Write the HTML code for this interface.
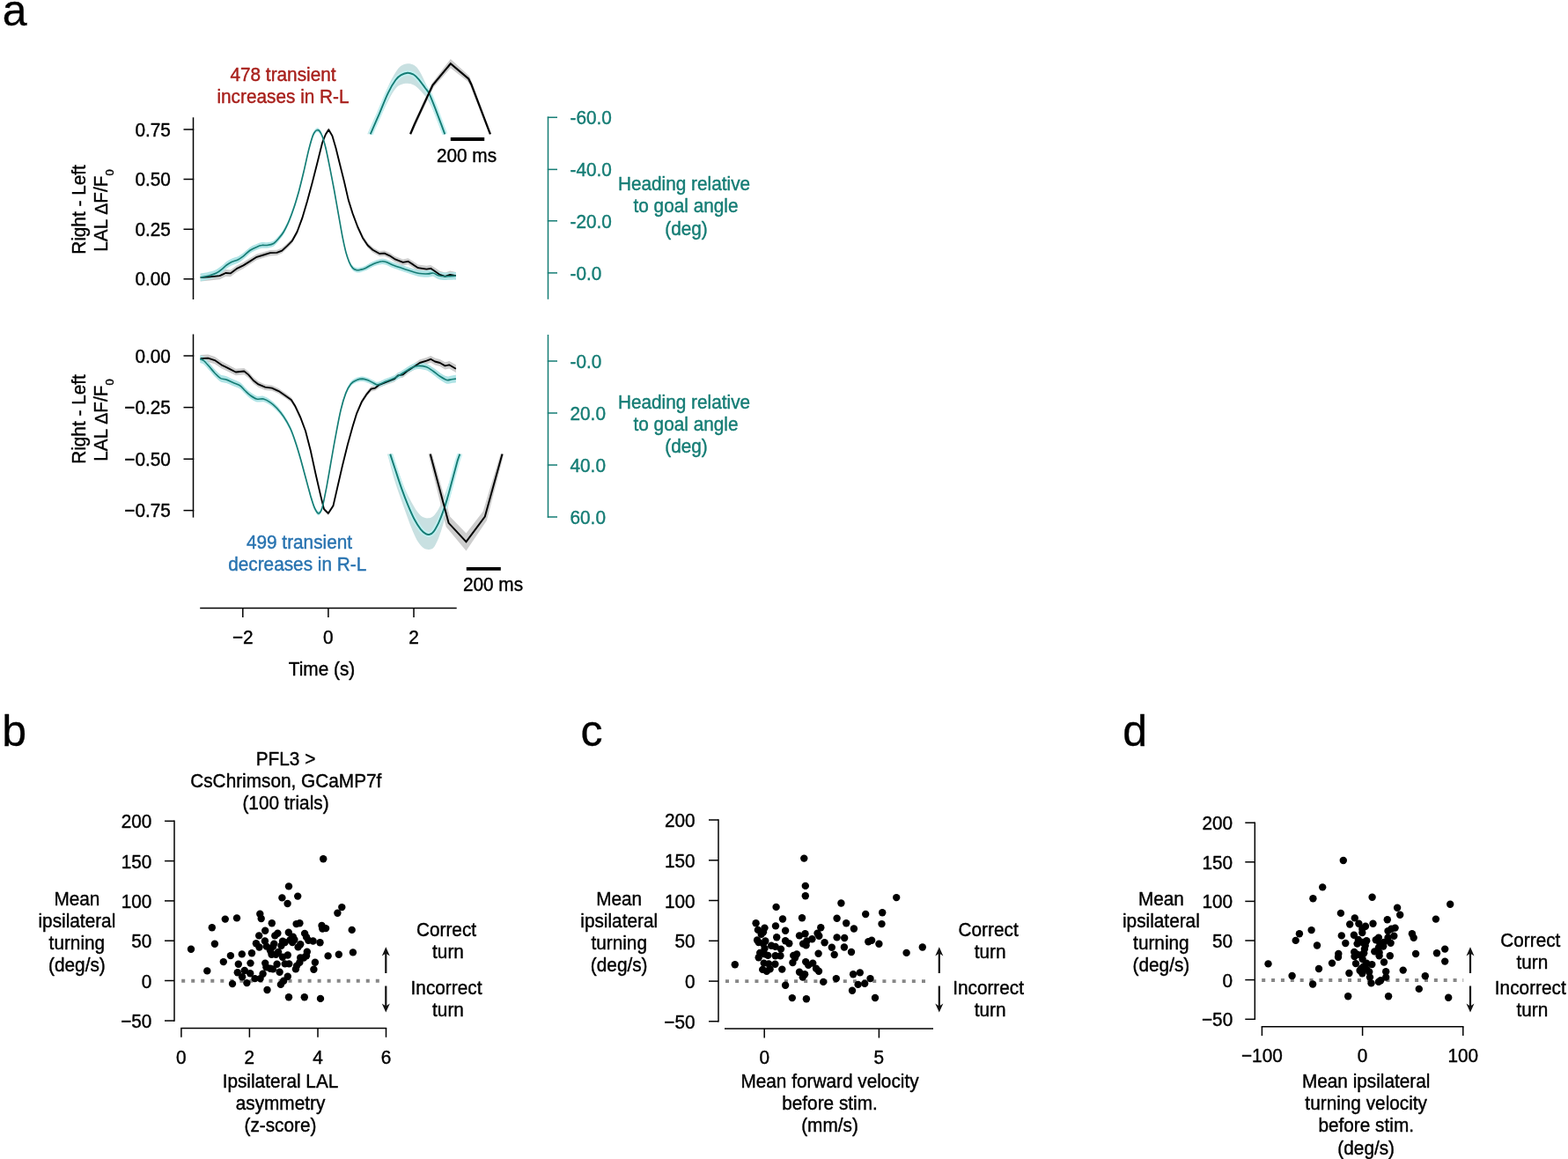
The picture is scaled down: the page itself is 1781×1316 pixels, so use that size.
<!DOCTYPE html>
<html lang="en"><head><meta charset="utf-8"><title>Figure</title>
<style>
html,body{margin:0;padding:0;background:#fff;}
body{width:1781px;height:1316px;overflow:hidden;}
svg{display:block;font-family:"Liberation Sans",sans-serif;}
text{stroke-width:0.4px;stroke-linejoin:round;transform-box:fill-box;transform-origin:50% 79%;transform:scaleY(1.025);}
</style></head><body>
<svg width="1781" height="1316" viewBox="0 0 1781 1316">
<rect width="1781" height="1316" fill="#fff"/>
<text x="2.8" y="28.5" text-anchor="start" fill="#000" stroke="#000" font-size="50.0px" style="transform:none;stroke-width:0.3px">a</text>
<text x="2.2" y="846.6" text-anchor="start" fill="#000" stroke="#000" font-size="50.0px" style="transform:none;stroke-width:0.3px">b</text>
<text x="659.6" y="846.6" text-anchor="start" fill="#000" stroke="#000" font-size="50.0px" style="transform:none;stroke-width:0.3px">c</text>
<text x="1275.2" y="846.6" text-anchor="start" fill="#000" stroke="#000" font-size="50.0px" style="transform:none;stroke-width:0.3px">d</text>
<line x1="219.5" y1="133.3" x2="219.5" y2="340.0" stroke="#000" stroke-width="1.50"/>
<line x1="208.5" y1="147.0" x2="220.2" y2="147.0" stroke="#000" stroke-width="1.50"/>
<text x="193.9" y="154.5" text-anchor="end" fill="#000" stroke="#000" font-size="20.8px">0.75</text>
<line x1="208.5" y1="203.5" x2="220.2" y2="203.5" stroke="#000" stroke-width="1.50"/>
<text x="193.9" y="211.0" text-anchor="end" fill="#000" stroke="#000" font-size="20.8px">0.50</text>
<line x1="208.5" y1="260.3" x2="220.2" y2="260.3" stroke="#000" stroke-width="1.50"/>
<text x="193.9" y="267.8" text-anchor="end" fill="#000" stroke="#000" font-size="20.8px">0.25</text>
<line x1="208.5" y1="316.8" x2="220.2" y2="316.8" stroke="#000" stroke-width="1.50"/>
<text x="193.9" y="324.3" text-anchor="end" fill="#000" stroke="#000" font-size="20.8px">0.00</text>
<line x1="219.5" y1="379.5" x2="219.5" y2="587.6" stroke="#000" stroke-width="1.50"/>
<line x1="208.5" y1="404.0" x2="220.2" y2="404.0" stroke="#000" stroke-width="1.50"/>
<text x="193.9" y="411.5" text-anchor="end" fill="#000" stroke="#000" font-size="20.8px">0.00</text>
<line x1="208.5" y1="462.6" x2="220.2" y2="462.6" stroke="#000" stroke-width="1.50"/>
<text x="193.9" y="470.1" text-anchor="end" fill="#000" stroke="#000" font-size="20.8px">−0.25</text>
<line x1="208.5" y1="521.2" x2="220.2" y2="521.2" stroke="#000" stroke-width="1.50"/>
<text x="193.9" y="528.7" text-anchor="end" fill="#000" stroke="#000" font-size="20.8px">−0.50</text>
<line x1="208.5" y1="579.6" x2="220.2" y2="579.6" stroke="#000" stroke-width="1.50"/>
<text x="193.9" y="587.1" text-anchor="end" fill="#000" stroke="#000" font-size="20.8px">−0.75</text>
<g transform="translate(97.2 238.0) rotate(-90)"><text text-anchor="middle" stroke="#000" font-size="20.8px">Right - Left</text></g>
<g transform="translate(122.3 239.0) rotate(-90)"><text text-anchor="middle" stroke="#000" font-size="20.8px">LAL <tspan font-size="19.5px">Δ</tspan>F/F<tspan font-size="13px" dy="6.3">0</tspan></text></g>
<g transform="translate(97.2 476.0) rotate(-90)"><text text-anchor="middle" stroke="#000" font-size="20.8px">Right - Left</text></g>
<g transform="translate(122.3 477.0) rotate(-90)"><text text-anchor="middle" stroke="#000" font-size="20.8px">LAL <tspan font-size="19.5px">Δ</tspan>F/F<tspan font-size="13px" dy="6.3">0</tspan></text></g>
<text x="321.5" y="92.2" text-anchor="middle" fill="#a8201c" stroke="#a8201c" font-size="20.8px">478 transient</text>
<text x="321.5" y="117.2" text-anchor="middle" fill="#a8201c" stroke="#a8201c" font-size="20.8px">increases in R-L</text>
<text x="340.0" y="623.2" text-anchor="middle" fill="#2873b0" stroke="#2873b0" font-size="20.8px">499 transient</text>
<text x="337.7" y="648.0" text-anchor="middle" fill="#2873b0" stroke="#2873b0" font-size="20.8px">decreases in R-L</text>
<line x1="622.5" y1="132.5" x2="622.5" y2="339.8" stroke="#147c74" stroke-width="1.50"/>
<line x1="621.8" y1="133.3" x2="633.0" y2="133.3" stroke="#147c74" stroke-width="1.50"/>
<text x="647.5" y="140.6" text-anchor="start" fill="#147c74" stroke="#147c74" font-size="20.8px">-60.0</text>
<line x1="621.8" y1="192.4" x2="633.0" y2="192.4" stroke="#147c74" stroke-width="1.50"/>
<text x="647.5" y="199.7" text-anchor="start" fill="#147c74" stroke="#147c74" font-size="20.8px">-40.0</text>
<line x1="621.8" y1="250.8" x2="633.0" y2="250.8" stroke="#147c74" stroke-width="1.50"/>
<text x="647.5" y="259.0" text-anchor="start" fill="#147c74" stroke="#147c74" font-size="20.8px">-20.0</text>
<line x1="621.8" y1="309.9" x2="633.0" y2="309.9" stroke="#147c74" stroke-width="1.50"/>
<text x="647.5" y="318.2" text-anchor="start" fill="#147c74" stroke="#147c74" font-size="20.8px">-0.0</text>
<line x1="622.5" y1="380.0" x2="622.5" y2="587.8" stroke="#147c74" stroke-width="1.50"/>
<line x1="621.8" y1="410.0" x2="633.0" y2="410.0" stroke="#147c74" stroke-width="1.50"/>
<text x="647.5" y="418.0" text-anchor="start" fill="#147c74" stroke="#147c74" font-size="20.8px">-0.0</text>
<line x1="621.8" y1="469.0" x2="633.0" y2="469.0" stroke="#147c74" stroke-width="1.50"/>
<text x="647.5" y="477.0" text-anchor="start" fill="#147c74" stroke="#147c74" font-size="20.8px">20.0</text>
<line x1="621.8" y1="528.0" x2="633.0" y2="528.0" stroke="#147c74" stroke-width="1.50"/>
<text x="647.5" y="536.0" text-anchor="start" fill="#147c74" stroke="#147c74" font-size="20.8px">40.0</text>
<line x1="621.8" y1="587.0" x2="633.0" y2="587.0" stroke="#147c74" stroke-width="1.50"/>
<text x="647.5" y="595.0" text-anchor="start" fill="#147c74" stroke="#147c74" font-size="20.8px">60.0</text>
<text x="777.0" y="216.2" text-anchor="middle" fill="#147c74" stroke="#147c74" font-size="20.8px">Heading relative</text>
<text x="779.0" y="241.4" text-anchor="middle" fill="#147c74" stroke="#147c74" font-size="20.8px">to goal angle</text>
<text x="779.5" y="266.7" text-anchor="middle" fill="#147c74" stroke="#147c74" font-size="20.8px">(deg)</text>
<text x="777.0" y="463.7" text-anchor="middle" fill="#147c74" stroke="#147c74" font-size="20.8px">Heading relative</text>
<text x="779.0" y="488.9" text-anchor="middle" fill="#147c74" stroke="#147c74" font-size="20.8px">to goal angle</text>
<text x="779.5" y="514.2" text-anchor="middle" fill="#147c74" stroke="#147c74" font-size="20.8px">(deg)</text>
<path d="M227.7 310.8L238.2 310.2L249.6 309.2L256.3 306.0L262.0 306.5L268.7 301.4L276.4 297.7L284.0 293.1L291.6 288.4L299.3 286.2L306.9 284.1L314.5 283.8L320.3 281.6L326.0 276.5L331.7 270.9L337.5 260.5L343.2 245.3L348.9 226.3L354.6 205.4L360.4 182.5L366.1 159.7L369.9 150.2L373.3 145.1L377.5 152.1L381.4 165.4L386.1 184.4L390.9 203.5L395.7 224.4L400.5 239.6L406.2 254.8L411.9 267.1L417.6 275.6L423.4 280.9L431.0 285.0L436.7 284.5L442.5 287.1L448.2 290.8L457.7 294.5L463.5 293.3L469.2 296.8L474.9 300.5L484.5 301.7L489.2 300.9L494.0 304.1L499.7 307.8L505.5 309.6L511.2 307.6L517.9 308.9L517.9 317.6L511.2 316.1L505.5 317.9L499.7 315.9L494.0 312.0L489.2 308.7L484.5 309.4L474.9 307.9L469.2 304.0L463.5 300.3L457.7 301.4L448.2 297.4L442.5 293.5L436.7 290.8L431.0 291.0L423.4 286.7L417.6 281.3L411.9 272.6L406.2 260.1L400.5 244.8L395.7 229.4L390.9 208.4L386.1 189.2L381.4 170.0L377.5 156.6L373.3 149.5L369.9 154.7L366.1 164.3L360.4 187.3L354.6 210.3L348.9 231.4L343.2 250.5L337.5 265.9L331.7 276.5L326.0 282.3L320.3 287.5L314.5 289.9L306.9 290.4L299.3 292.8L291.6 295.2L284.0 300.1L276.4 305.0L268.7 308.9L262.0 314.2L256.3 313.9L249.6 317.2L238.2 318.5L227.7 319.5Z" fill="#cccccc" stroke="none"/>
<path d="M227.7 310.8C229.3 310.4 235.5 309.4 238.2 308.6C240.9 307.9 243.8 306.8 245.8 305.9C247.8 304.9 249.8 303.5 251.5 302.1C253.3 300.8 255.6 298.3 257.3 297.1C259.0 295.8 261.0 294.6 263.0 293.7C265.0 292.8 268.6 291.9 270.6 291.0C272.6 290.0 274.4 288.8 276.4 287.2C278.4 285.7 281.7 282.2 284.0 280.7C286.3 279.1 289.6 277.8 291.6 277.0C293.6 276.1 295.6 275.4 297.4 275.1C299.1 274.9 301.1 275.5 303.1 275.2C305.1 275.0 308.7 274.6 310.7 273.4C312.7 272.3 314.7 269.8 316.5 267.8C318.2 265.8 320.5 263.1 322.2 260.2C323.9 257.4 326.2 252.9 327.9 248.9C329.6 244.9 331.9 238.8 333.6 233.7C335.4 228.6 337.6 221.0 339.4 214.7C341.1 208.4 343.4 199.0 345.1 191.9C346.8 184.7 349.2 173.3 350.8 167.1C352.4 161.0 354.2 154.2 355.6 151.0C357.0 147.7 358.9 145.4 360.4 145.3C361.8 145.2 363.7 147.1 365.1 150.2C366.6 153.2 368.5 159.8 369.9 165.5C371.3 171.2 373.3 181.3 374.7 188.4C376.1 195.6 378.0 205.5 379.5 213.2C380.9 220.9 382.8 231.8 384.2 239.8C385.7 247.8 387.7 259.9 389.0 266.5C390.3 273.1 391.7 279.3 392.8 283.6C394.0 287.9 395.5 292.3 396.6 295.0C397.8 297.7 399.2 300.3 400.5 301.6C401.7 303.0 403.8 303.8 405.2 304.1C406.7 304.3 408.4 303.8 410.0 303.4C411.6 303.0 414.0 302.2 415.7 301.4C417.4 300.6 419.7 299.0 421.5 298.1C423.2 297.2 425.3 296.2 427.2 295.5C429.0 294.9 432.1 293.9 433.9 293.7C435.6 293.5 436.8 293.8 438.6 294.4C440.5 295.0 443.7 296.7 446.3 297.7C448.9 298.7 452.7 299.8 455.8 300.8C459.0 301.8 464.1 303.6 467.3 304.5C470.4 305.4 474.0 306.4 476.8 306.8C479.7 307.2 484.1 307.2 486.4 307.0C488.7 306.9 490.4 305.7 492.1 306.0C493.8 306.3 495.8 308.2 497.8 308.8C499.8 309.3 502.5 309.6 505.5 309.6C508.5 309.6 516.0 309.0 517.9 308.9 L517.9 317.6C516.0 317.6 508.5 318.0 505.5 317.9C502.5 317.8 499.8 317.5 497.8 316.9C495.8 316.3 493.8 314.2 492.1 313.9C490.4 313.6 488.7 314.7 486.4 314.8C484.1 314.8 479.7 314.7 476.8 314.3C474.0 313.8 470.4 312.6 467.3 311.6C464.1 310.6 459.0 308.8 455.8 307.6C452.7 306.5 448.9 305.3 446.3 304.3C443.7 303.2 440.5 301.4 438.6 300.7C436.8 300.1 435.6 299.8 433.9 299.9C432.1 300.0 429.0 300.9 427.2 301.5C425.3 302.1 423.2 303.1 421.5 303.9C419.7 304.7 417.4 306.3 415.7 307.0C414.0 307.8 411.6 308.5 410.0 308.9C408.4 309.2 406.7 309.7 405.2 309.4C403.8 309.1 401.7 308.2 400.5 306.8C399.2 305.4 397.8 302.8 396.6 300.1C395.5 297.3 394.0 292.9 392.8 288.6C391.7 284.3 390.3 277.9 389.0 271.3C387.7 264.7 385.7 252.6 384.2 244.5C382.8 236.5 380.9 225.5 379.5 217.7C378.0 210.0 376.1 200.0 374.7 192.8C373.3 185.7 371.3 175.7 369.9 169.9C368.5 164.2 366.6 157.7 365.1 154.7C363.7 151.8 361.8 149.9 360.4 150.0C358.9 150.2 357.0 152.5 355.6 155.8C354.2 159.2 352.4 166.0 350.8 172.1C349.2 178.3 346.8 189.9 345.1 197.0C343.4 204.2 341.1 213.7 339.4 220.0C337.6 226.4 335.4 234.0 333.6 239.2C331.9 244.4 329.6 250.5 327.9 254.6C326.2 258.6 323.9 263.2 322.2 266.1C320.5 269.0 318.2 271.8 316.5 273.8C314.7 275.9 312.7 278.5 310.7 279.7C308.7 280.8 305.1 281.4 303.1 281.7C301.1 282.0 299.1 281.5 297.4 281.8C295.6 282.1 293.6 282.9 291.6 283.8C289.6 284.7 286.3 286.1 284.0 287.7C281.7 289.3 278.4 292.9 276.4 294.5C274.4 296.1 272.6 297.4 270.6 298.4C268.6 299.4 265.0 300.4 263.0 301.4C261.0 302.3 259.0 303.6 257.3 304.9C255.6 306.2 253.3 308.8 251.5 310.1C249.8 311.5 247.8 313.0 245.8 314.0C243.8 315.1 240.9 316.2 238.2 317.0C235.5 317.8 229.3 319.1 227.7 319.5Z" fill="#b0e4e6" stroke="none"/>
<path d="M227.7 315.1L238.2 314.3L249.6 313.2L256.3 310.0L262.0 310.3L268.7 305.2L276.4 301.4L284.0 296.6L291.6 291.8L299.3 289.5L306.9 287.2L314.5 286.9L320.3 284.6L326.0 279.4L331.7 273.7L337.5 263.2L343.2 247.9L348.9 228.8L354.6 207.8L360.4 184.9L366.1 162.0L369.9 152.5L373.3 147.3L377.5 154.4L381.4 167.7L386.1 186.8L390.9 205.9L395.7 226.9L400.5 242.2L406.2 257.5L411.9 269.9L417.6 278.5L423.4 283.8L431.0 288.0L436.7 287.6L442.5 290.3L448.2 294.1L457.7 297.9L463.5 296.8L469.2 300.4L474.9 304.2L484.5 305.6L489.2 304.8L494.0 308.0L499.7 311.9L505.5 313.8L511.2 311.9L517.9 313.2" stroke="#000" stroke-width="1.85" fill="none" stroke-linejoin="round"/>
<path d="M227.7 315.1C229.3 314.8 235.5 313.6 238.2 312.8C240.9 312.0 243.8 311.0 245.8 310.0C247.8 309.0 249.8 307.5 251.5 306.1C253.3 304.8 255.6 302.3 257.3 301.0C259.0 299.7 261.0 298.5 263.0 297.5C265.0 296.6 268.6 295.7 270.6 294.7C272.6 293.7 274.4 292.4 276.4 290.9C278.4 289.3 281.7 285.8 284.0 284.2C286.3 282.6 289.6 281.2 291.6 280.4C293.6 279.5 295.6 278.7 297.4 278.5C299.1 278.2 301.1 278.7 303.1 278.5C305.1 278.2 308.7 277.7 310.7 276.5C312.7 275.4 314.7 272.8 316.5 270.8C318.2 268.8 320.5 266.0 322.2 263.2C323.9 260.3 326.2 255.7 327.9 251.7C329.6 247.7 331.9 241.6 333.6 236.5C335.4 231.3 337.6 223.7 339.4 217.4C341.1 211.1 343.4 201.6 345.1 194.5C346.8 187.3 349.2 175.8 350.8 169.6C352.4 163.5 354.2 156.7 355.6 153.4C357.0 150.1 358.9 147.8 360.4 147.7C361.8 147.5 363.7 149.4 365.1 152.5C366.6 155.5 368.5 162.0 369.9 167.7C371.3 173.5 373.3 183.5 374.7 190.6C376.1 197.8 378.0 207.7 379.5 215.5C380.9 223.2 382.8 234.2 384.2 242.2C385.7 250.2 387.7 262.3 389.0 268.9C390.3 275.5 391.7 281.8 392.8 286.1C394.0 290.4 395.5 294.8 396.6 297.5C397.8 300.3 399.2 302.9 400.5 304.2C401.7 305.6 403.8 306.4 405.2 306.7C406.7 307.0 408.4 306.5 410.0 306.1C411.6 305.8 414.0 305.0 415.7 304.2C417.4 303.5 419.7 301.8 421.5 301.0C423.2 300.1 425.3 299.1 427.2 298.5C429.0 297.9 432.1 296.9 433.9 296.8C435.6 296.6 436.8 296.9 438.6 297.5C440.5 298.2 443.7 300.0 446.3 301.0C448.9 302.0 452.7 303.2 455.8 304.2C459.0 305.3 464.1 307.1 467.3 308.0C470.4 309.0 474.0 310.1 476.8 310.5C479.7 311.0 484.1 311.0 486.4 310.9C488.7 310.8 490.4 309.7 492.1 310.0C493.8 310.2 495.8 312.2 497.8 312.8C499.8 313.4 502.5 313.7 505.5 313.8C508.5 313.8 516.0 313.3 517.9 313.2" stroke="#147c74" stroke-width="1.65" fill="none" stroke-linejoin="round"/>
<path d="M227.7 402.9L236.3 402.4L243.9 405.0L251.5 410.3L259.2 414.2L267.8 418.7L277.3 417.9L282.1 421.8L287.8 428.6L293.5 433.1L301.2 436.4L308.8 437.5L316.5 441.1L324.1 446.3L330.8 451.2L335.5 458.9L341.3 471.4L347.0 486.8L352.7 508.8L358.5 535.6L364.2 560.5L368.0 575.8L372.8 580.7L378.5 572.0L383.3 550.9L389.0 526.0L394.7 503.0L400.5 482.0L405.2 466.6L411.0 453.2L416.7 444.5L421.5 438.7L426.2 437.7L431.0 433.8L438.6 430.8L448.2 426.8L452.0 423.0L457.7 421.9L463.5 417.1L471.1 412.2L476.8 408.3L484.5 405.9L489.2 403.9L494.0 406.5L499.7 407.9L505.5 411.3L510.2 410.1L517.9 414.3L517.9 423.0L510.2 418.5L505.5 419.6L499.7 416.1L494.0 414.5L489.2 411.7L484.5 413.6L476.8 415.7L471.1 419.5L463.5 424.1L457.7 428.8L452.0 429.7L448.2 433.4L438.6 437.1L431.0 439.9L426.2 443.6L421.5 444.5L416.7 450.1L411.0 458.7L405.2 471.9L400.5 487.1L394.7 508.0L389.0 530.9L383.3 555.6L378.5 576.5L372.8 585.0L368.0 580.3L364.2 565.1L358.5 540.4L352.7 513.8L347.0 491.9L341.3 476.7L335.5 464.4L330.8 456.8L324.1 452.1L316.5 447.1L308.8 443.8L301.2 442.9L293.5 439.8L287.8 435.5L282.1 428.9L277.3 425.2L267.8 426.3L259.2 422.0L251.5 418.3L243.9 413.2L236.3 410.9L227.7 411.6Z" fill="#cccccc" stroke="none"/>
<path d="M227.3 403.3C227.9 403.6 229.9 403.8 231.5 405.2C233.1 406.6 236.3 410.5 238.2 412.6C240.0 414.7 242.0 417.4 243.9 419.3C245.8 421.3 248.6 424.4 250.6 425.6C252.6 426.7 255.1 426.4 257.3 427.2C259.4 428.0 262.6 429.7 264.9 430.7C267.2 431.8 270.5 432.7 272.5 434.1C274.6 435.5 276.6 438.2 278.3 439.9C280.0 441.6 282.0 443.7 284.0 445.1C286.0 446.6 289.3 449.0 291.6 449.7C293.9 450.3 297.0 449.2 299.3 449.8C301.6 450.4 304.6 452.1 306.9 453.7C309.2 455.3 312.3 458.0 314.5 460.5C316.8 463.0 319.9 466.7 322.2 470.2C324.5 473.6 327.8 479.3 329.8 483.6C331.8 488.0 333.8 493.8 335.5 499.0C337.3 504.2 339.6 512.1 341.3 518.2C343.0 524.2 345.3 532.9 347.0 539.3C348.7 545.6 351.2 555.0 352.7 560.3C354.3 565.7 356.1 571.7 357.5 574.7C358.9 577.8 360.6 580.6 361.9 580.5C363.2 580.4 364.7 578.3 366.1 573.9C367.4 569.5 369.4 558.5 370.9 551.1C372.3 543.6 374.1 533.2 375.6 524.3C377.2 515.4 379.6 501.0 381.4 491.8C383.1 482.6 385.4 470.3 387.1 463.1C388.8 455.9 391.1 448.4 392.8 443.9C394.5 439.4 396.7 435.6 398.5 433.3C400.4 431.0 403.2 429.7 405.2 428.8C407.2 427.9 409.9 427.3 411.9 427.4C413.9 427.4 416.7 428.5 418.6 429.2C420.5 429.9 422.7 431.3 424.3 432.0C425.9 432.7 426.9 434.1 429.1 433.8C431.2 433.5 435.8 431.0 438.6 429.8C441.5 428.7 445.3 427.4 448.2 425.9C451.1 424.4 454.9 421.8 457.7 420.0C460.6 418.2 464.7 415.4 467.3 414.1C469.9 412.9 472.3 411.9 474.9 411.7C477.5 411.6 481.9 412.0 484.5 412.9C487.0 413.8 489.8 416.0 492.1 417.6C494.4 419.1 497.4 421.7 499.7 423.2C502.0 424.7 505.4 426.8 507.4 427.3C509.4 427.8 511.5 426.7 513.1 426.4C514.7 426.2 517.2 425.9 517.9 425.8 L517.9 434.5C517.2 434.6 514.7 434.8 513.1 435.0C511.5 435.2 509.4 436.2 507.4 435.7C505.4 435.1 502.0 432.9 499.7 431.3C497.4 429.8 494.4 427.1 492.1 425.5C489.8 423.9 487.0 421.6 484.5 420.6C481.9 419.7 477.5 419.0 474.9 419.1C472.3 419.2 469.9 420.2 467.3 421.3C464.7 422.5 460.6 425.2 457.7 426.9C454.9 428.6 451.1 431.1 448.2 432.5C445.3 433.9 441.5 435.1 438.6 436.2C435.8 437.3 431.2 439.6 429.1 439.8C426.9 440.1 425.9 438.6 424.3 437.9C422.7 437.1 420.5 435.6 418.6 434.9C416.7 434.2 413.9 433.0 411.9 432.9C409.9 432.8 407.2 433.3 405.2 434.1C403.2 435.0 400.4 436.2 398.5 438.4C396.7 440.6 394.5 444.4 392.8 448.8C391.1 453.3 388.8 460.7 387.1 467.8C385.4 475.0 383.1 487.3 381.4 496.4C379.6 505.5 377.2 519.9 375.6 528.8C374.1 537.6 372.3 548.0 370.9 555.5C369.4 562.9 367.4 574.0 366.1 578.5C364.7 582.9 363.2 585.0 361.9 585.2C360.6 585.4 358.9 582.5 357.5 579.5C356.1 576.6 354.3 570.6 352.7 565.3C351.2 560.0 348.7 550.7 347.0 544.4C345.3 538.1 343.0 529.5 341.3 523.5C339.6 517.5 337.3 509.6 335.5 504.5C333.8 499.3 331.8 493.5 329.8 489.3C327.8 485.0 324.5 479.4 322.2 476.0C319.9 472.6 316.8 469.0 314.5 466.6C312.3 464.2 309.2 461.6 306.9 460.0C304.6 458.5 301.6 456.9 299.3 456.3C297.0 455.8 293.9 457.1 291.6 456.4C289.3 455.8 286.0 453.6 284.0 452.2C282.0 450.8 280.0 448.7 278.3 447.1C276.6 445.5 274.6 442.8 272.5 441.5C270.5 440.1 267.2 439.3 264.9 438.3C262.6 437.4 259.4 435.7 257.3 435.0C255.1 434.3 252.6 434.7 250.6 433.6C248.6 432.5 245.8 429.5 243.9 427.6C242.0 425.7 240.0 423.0 238.2 421.0C236.3 418.9 233.1 415.2 231.5 413.8C229.9 412.5 227.9 412.2 227.3 412.0Z" fill="#b0e4e6" stroke="none"/>
<path d="M227.7 407.2L236.3 406.7L243.9 409.1L251.5 414.3L259.2 418.1L267.8 422.5L277.3 421.5L282.1 425.4L287.8 432.0L293.5 436.4L301.2 439.7L308.8 440.6L316.5 444.1L324.1 449.2L330.8 454.0L335.5 461.6L341.3 474.0L347.0 489.3L352.7 511.3L358.5 538.0L364.2 562.8L368.0 578.1L372.8 582.9L378.5 574.3L383.3 553.3L389.0 528.5L394.7 505.5L400.5 484.5L405.2 469.3L411.0 455.9L416.7 447.3L421.5 441.6L426.2 440.6L431.0 436.8L438.6 434.0L448.2 430.1L452.0 426.3L457.7 425.4L463.5 420.6L471.1 415.8L476.8 412.0L484.5 409.7L489.2 407.8L494.0 410.5L499.7 412.0L505.5 415.4L510.2 414.3L517.9 418.7" stroke="#000" stroke-width="1.85" fill="none" stroke-linejoin="round"/>
<path d="M227.3 407.6C227.9 407.9 229.9 408.1 231.5 409.5C233.1 410.9 236.3 414.7 238.2 416.8C240.0 418.9 242.0 421.5 243.9 423.5C245.8 425.4 248.6 428.4 250.6 429.6C252.6 430.7 255.1 430.3 257.3 431.1C259.4 431.8 262.6 433.5 264.9 434.5C267.2 435.5 270.5 436.4 272.5 437.8C274.6 439.1 276.6 441.9 278.3 443.5C280.0 445.1 282.0 447.2 284.0 448.7C286.0 450.1 289.3 452.4 291.6 453.0C293.9 453.7 297.0 452.5 299.3 453.0C301.6 453.6 304.6 455.3 306.9 456.9C309.2 458.4 312.3 461.1 314.5 463.5C316.8 466.0 319.9 469.7 322.2 473.1C324.5 476.5 327.8 482.2 329.8 486.5C331.8 490.8 333.8 496.6 335.5 501.7C337.3 506.9 339.6 514.8 341.3 520.8C343.0 526.8 345.3 535.5 347.0 541.8C348.7 548.1 351.2 557.5 352.7 562.8C354.3 568.1 356.1 574.1 357.5 577.1C358.9 580.1 360.6 583.0 361.9 582.9C363.2 582.7 364.7 580.6 366.1 576.2C367.4 571.7 369.4 560.7 370.9 553.3C372.3 545.8 374.1 535.4 375.6 526.5C377.2 517.7 379.6 503.3 381.4 494.1C383.1 484.9 385.4 472.6 387.1 465.5C388.8 458.3 391.1 450.8 392.8 446.4C394.5 441.9 396.7 438.1 398.5 435.9C400.4 433.6 403.2 432.3 405.2 431.5C407.2 430.6 409.9 430.1 411.9 430.1C413.9 430.2 416.7 431.3 418.6 432.0C420.5 432.8 422.7 434.2 424.3 434.9C425.9 435.6 426.9 437.1 429.1 436.8C431.2 436.5 435.8 434.1 438.6 433.0C441.5 431.9 445.3 430.6 448.2 429.2C451.1 427.8 454.9 425.2 457.7 423.5C460.6 421.7 464.7 418.9 467.3 417.7C469.9 416.5 472.3 415.6 474.9 415.4C477.5 415.3 481.9 415.9 484.5 416.8C487.0 417.7 489.8 420.0 492.1 421.5C494.4 423.1 497.4 425.8 499.7 427.3C502.0 428.8 505.4 431.0 507.4 431.5C509.4 432.0 511.5 430.9 513.1 430.7C514.7 430.5 517.2 430.2 517.9 430.1" stroke="#147c74" stroke-width="1.65" fill="none" stroke-linejoin="round"/>
<path d="M417.3 152.3C419.6 147.2 427.0 130.7 430.9 121.6C434.8 112.6 437.7 104.8 440.8 98.2C443.9 91.6 446.9 86.0 449.4 82.1C451.9 78.2 453.3 76.4 455.6 74.7C457.9 73.1 460.5 72.3 463.0 72.2C465.5 72.1 468.1 72.6 470.4 74.1C472.7 75.5 474.3 77.3 476.6 80.9C478.9 84.5 481.5 90.6 484.0 95.7C486.5 100.9 488.9 106.0 491.4 111.8C493.9 117.5 496.1 123.5 498.8 130.3C501.5 137.0 506.0 148.6 507.5 152.3 L502.5 152.3C501.5 149.6 498.4 141.6 496.4 136.5C494.3 131.4 492.2 126.0 490.2 121.6C488.1 117.3 486.3 113.8 484.0 110.5C481.7 107.2 478.9 104.2 476.6 101.9C474.3 99.6 472.7 97.9 470.4 96.7C468.1 95.5 465.5 94.8 463.0 94.7C460.5 94.6 457.9 95.0 455.6 96.0C453.3 96.9 451.7 97.9 449.4 100.6C447.1 103.4 444.7 107.4 442.0 112.4C439.3 117.3 436.4 123.6 433.4 130.3C430.3 136.9 425.1 148.6 423.5 152.3Z" fill="#c8e0e1" stroke="none" opacity="1.00"/>
<path d="M464.9 152.3L469.8 140.2L490.5 94.7L511.8 67.0L533.2 86.4L536.5 94.7L558.1 152.3L555.7 152.3L534.0 96.9L530.9 92.2L511.8 77.2L492.4 99.2L472.3 142.0L467.7 152.3Z" fill="#cdcdcd" stroke="none" opacity="1.00"/>
<path d="M420.8 152.3C422.4 148.4 427.5 136.8 430.9 129.1C434.2 121.3 437.7 112.0 440.8 105.6C443.9 99.2 446.9 94.2 449.4 90.8C451.9 87.4 453.3 86.5 455.6 85.2C457.9 83.9 460.7 82.9 463.0 82.7C465.3 82.6 467.1 83.2 469.2 84.3C471.2 85.5 473.1 87.2 475.4 89.8C477.6 92.3 480.7 96.8 482.8 99.7C484.8 102.5 485.9 103.1 487.7 106.8C489.6 110.5 491.8 116.6 493.9 121.9C495.9 127.1 498.2 133.3 500.1 138.3C502.0 143.4 504.4 150.0 505.3 152.3" stroke="#c2eff0" stroke-width="5.80" fill="none"/>
<path d="M420.8 152.3C422.4 148.4 427.5 136.8 430.9 129.1C434.2 121.3 437.7 112.0 440.8 105.6C443.9 99.2 446.9 94.2 449.4 90.8C451.9 87.4 453.3 86.5 455.6 85.2C457.9 83.9 460.7 82.9 463.0 82.7C465.3 82.6 467.1 83.2 469.2 84.3C471.2 85.5 473.1 87.2 475.4 89.8C477.6 92.3 480.7 96.8 482.8 99.7C484.8 102.5 485.9 103.1 487.7 106.8C489.6 110.5 491.8 116.6 493.9 121.9C495.9 127.1 498.2 133.3 500.1 138.3C502.0 143.4 504.4 150.0 505.3 152.3" stroke="#147c74" stroke-width="1.90" fill="none"/>
<path d="M466.1 152.3L471.0 140.8L491.4 96.9L511.8 72.2L532.2 89.5L535.3 95.7L556.9 152.3" stroke="#000" stroke-width="2.20" fill="none" stroke-linejoin="miter"/>
<line x1="511.8" y1="158.0" x2="550.2" y2="158.0" stroke="#000" stroke-width="3.80"/>
<text x="530.0" y="184.1" text-anchor="middle" fill="#000" stroke="#000" font-size="20.8px">200 ms</text>
<path d="M446.1 515.6C447.3 519.2 450.9 530.7 453.3 537.5C455.7 544.3 458.1 550.8 460.5 556.3C462.9 561.8 465.3 566.4 467.7 570.7C470.2 575.1 472.8 579.5 475.0 582.3C477.1 585.1 478.8 586.3 480.7 587.3C482.7 588.3 484.6 588.6 486.5 588.3C488.4 588.1 490.4 587.6 492.3 585.9C494.2 584.2 496.1 581.4 498.1 578.0C500.0 574.5 501.7 570.5 503.8 565.0C506.0 559.4 508.8 551.7 511.1 544.8C513.3 537.8 516.1 528.0 517.6 523.1C519.0 518.2 519.6 516.8 520.0 515.6 L524.8 515.6C524.2 517.3 522.7 520.6 521.2 526.0C519.6 531.3 517.3 539.9 515.4 547.6C513.5 555.3 511.5 564.5 509.6 572.2C507.7 579.9 505.8 587.3 503.8 593.8C501.9 600.3 500.0 606.5 498.1 611.2C496.1 615.9 494.2 619.9 492.3 622.0C490.4 624.1 488.4 623.9 486.5 623.9C484.6 623.9 482.7 623.4 480.7 622.0C478.8 620.6 476.9 618.5 475.0 615.5C473.0 612.5 471.4 609.0 469.2 603.9C467.0 598.9 464.4 591.7 462.0 585.2C459.6 578.7 457.2 571.9 454.8 565.0C452.3 558.0 450.0 551.5 447.5 543.3C445.1 535.1 441.3 520.2 440.0 515.6Z" fill="#c8e0e1" stroke="none" opacity="1.00"/>
<path d="M490.8 515.6L511.1 586.6L529.5 605.4L548.6 580.8L568.5 515.6L572.4 515.6L552.9 590.9L529.5 625.6L506.7 598.2L486.5 515.6Z" fill="#cdcdcd" stroke="none" opacity="1.00"/>
<path d="M443.2 515.6C444.2 518.5 446.8 526.7 449.0 533.2C451.1 539.7 453.8 548.1 456.2 554.9C458.6 561.6 461.0 567.9 463.4 573.6C465.8 579.4 468.2 584.9 470.6 589.5C473.0 594.1 475.7 598.3 477.9 601.1C480.0 603.8 481.9 605.1 483.6 606.1C485.3 607.1 486.5 607.2 488.0 606.8C489.4 606.5 490.6 606.1 492.3 603.9C494.0 601.8 496.1 597.9 498.1 593.8C500.0 589.7 501.9 584.9 503.8 579.4C505.8 573.9 507.7 567.4 509.6 560.6C511.5 553.9 513.7 545.2 515.4 539.0C517.1 532.7 518.6 527.0 519.7 523.1C520.9 519.2 521.9 516.8 522.3 515.6" stroke="#c2eff0" stroke-width="5.80" fill="none"/>
<path d="M443.2 515.6C444.2 518.5 446.8 526.7 449.0 533.2C451.1 539.7 453.8 548.1 456.2 554.9C458.6 561.6 461.0 567.9 463.4 573.6C465.8 579.4 468.2 584.9 470.6 589.5C473.0 594.1 475.7 598.3 477.9 601.1C480.0 603.8 481.9 605.1 483.6 606.1C485.3 607.1 486.5 607.2 488.0 606.8C489.4 606.5 490.6 606.1 492.3 603.9C494.0 601.8 496.1 597.9 498.1 593.8C500.0 589.7 501.9 584.9 503.8 579.4C505.8 573.9 507.7 567.4 509.6 560.6C511.5 553.9 513.7 545.2 515.4 539.0C517.1 532.7 518.6 527.0 519.7 523.1C520.9 519.2 521.9 516.8 522.3 515.6" stroke="#147c74" stroke-width="1.90" fill="none"/>
<path d="M488.7 515.6L509.6 593.8L529.5 615.2L550.8 586.6L570.5 515.6" stroke="#000" stroke-width="1.95" fill="none" stroke-linejoin="miter"/>
<line x1="529.8" y1="645.8" x2="568.8" y2="645.8" stroke="#000" stroke-width="3.80"/>
<text x="560.0" y="671.0" text-anchor="middle" fill="#000" stroke="#000" font-size="20.8px">200 ms</text>
<line x1="227.2" y1="690.4" x2="518.7" y2="690.4" stroke="#000" stroke-width="1.50"/>
<line x1="275.8" y1="690.4" x2="275.8" y2="701.0" stroke="#000" stroke-width="1.50"/>
<text x="275.8" y="730.9" text-anchor="middle" fill="#000" stroke="#000" font-size="20.8px">−2</text>
<line x1="372.9" y1="690.4" x2="372.9" y2="701.0" stroke="#000" stroke-width="1.50"/>
<text x="372.9" y="730.9" text-anchor="middle" fill="#000" stroke="#000" font-size="20.8px">0</text>
<line x1="470.0" y1="690.4" x2="470.0" y2="701.0" stroke="#000" stroke-width="1.50"/>
<text x="470.0" y="730.9" text-anchor="middle" fill="#000" stroke="#000" font-size="20.8px">2</text>
<text x="365.5" y="767.2" text-anchor="middle" fill="#000" stroke="#000" font-size="20.8px">Time (s)</text>
<text x="324.5" y="869.1" text-anchor="middle" fill="#000" stroke="#000" font-size="20.8px">PFL3 &gt;</text>
<text x="324.8" y="894.3" text-anchor="middle" fill="#000" stroke="#000" font-size="20.8px">CsChrimson, GCaMP7f</text>
<text x="324.5" y="919.1" text-anchor="middle" fill="#000" stroke="#000" font-size="20.8px">(100 trials)</text>
<line x1="198.0" y1="931.5" x2="198.0" y2="1159.8" stroke="#000" stroke-width="1.50"/>
<line x1="187.0" y1="932.3" x2="198.0" y2="932.3" stroke="#000" stroke-width="1.50"/>
<text x="172.4" y="940.3" text-anchor="end" fill="#000" stroke="#000" font-size="20.8px">200</text>
<line x1="187.0" y1="977.6" x2="198.0" y2="977.6" stroke="#000" stroke-width="1.50"/>
<text x="172.4" y="985.6" text-anchor="end" fill="#000" stroke="#000" font-size="20.8px">150</text>
<line x1="187.0" y1="1022.9" x2="198.0" y2="1022.9" stroke="#000" stroke-width="1.50"/>
<text x="172.4" y="1030.9" text-anchor="end" fill="#000" stroke="#000" font-size="20.8px">100</text>
<line x1="187.0" y1="1068.2" x2="198.0" y2="1068.2" stroke="#000" stroke-width="1.50"/>
<text x="172.4" y="1076.2" text-anchor="end" fill="#000" stroke="#000" font-size="20.8px">50</text>
<line x1="187.0" y1="1113.5" x2="198.0" y2="1113.5" stroke="#000" stroke-width="1.50"/>
<text x="172.4" y="1121.5" text-anchor="end" fill="#000" stroke="#000" font-size="20.8px">0</text>
<line x1="187.0" y1="1159.0" x2="198.0" y2="1159.0" stroke="#000" stroke-width="1.50"/>
<text x="172.4" y="1167.0" text-anchor="end" fill="#000" stroke="#000" font-size="20.8px">−50</text>
<text x="87.4" y="1028.2" text-anchor="middle" fill="#000" stroke="#000" font-size="20.8px">Mean</text>
<text x="87.4" y="1053.1" text-anchor="middle" fill="#000" stroke="#000" font-size="20.8px">ipsilateral</text>
<text x="87.4" y="1078.1" text-anchor="middle" fill="#000" stroke="#000" font-size="20.8px">turning</text>
<text x="87.4" y="1103.0" text-anchor="middle" fill="#000" stroke="#000" font-size="20.8px">(deg/s)</text>
<line x1="205.2" y1="1167.4" x2="439.2" y2="1167.4" stroke="#000" stroke-width="1.50"/>
<line x1="205.9" y1="1167.4" x2="205.9" y2="1177.8" stroke="#000" stroke-width="1.50"/>
<text x="205.9" y="1207.5" text-anchor="middle" fill="#000" stroke="#000" font-size="20.8px">0</text>
<line x1="283.4" y1="1167.4" x2="283.4" y2="1177.8" stroke="#000" stroke-width="1.50"/>
<text x="283.4" y="1207.5" text-anchor="middle" fill="#000" stroke="#000" font-size="20.8px">2</text>
<line x1="361.0" y1="1167.4" x2="361.0" y2="1177.8" stroke="#000" stroke-width="1.50"/>
<text x="361.0" y="1207.5" text-anchor="middle" fill="#000" stroke="#000" font-size="20.8px">4</text>
<line x1="438.5" y1="1167.4" x2="438.5" y2="1177.8" stroke="#000" stroke-width="1.50"/>
<text x="438.5" y="1207.5" text-anchor="middle" fill="#000" stroke="#000" font-size="20.8px">6</text>
<text x="318.5" y="1234.9" text-anchor="middle" fill="#000" stroke="#000" font-size="20.8px">Ipsilateral LAL</text>
<text x="318.5" y="1260.1" text-anchor="middle" fill="#000" stroke="#000" font-size="20.8px">asymmetry</text>
<text x="318.5" y="1285.3" text-anchor="middle" fill="#000" stroke="#000" font-size="20.8px">(z-score)</text>
<line x1="206.2" y1="1113.7" x2="432.0" y2="1113.7" stroke="#868686" stroke-width="3.9" stroke-dasharray="4 7.03"/>
<g fill="#000"><circle cx="367.2" cy="975.2" r="4.20"/><circle cx="328.0" cy="1006.4" r="4.20"/><circle cx="338.2" cy="1017.6" r="4.20"/><circle cx="320.4" cy="1019.4" r="4.20"/><circle cx="326.6" cy="1026.0" r="4.20"/><circle cx="388.3" cy="1030.1" r="4.20"/><circle cx="383.4" cy="1036.8" r="4.20"/><circle cx="295.3" cy="1037.8" r="4.20"/><circle cx="296.7" cy="1043.0" r="4.20"/><circle cx="255.8" cy="1043.6" r="4.20"/><circle cx="269.0" cy="1042.4" r="4.20"/><circle cx="308.8" cy="1048.3" r="4.20"/><circle cx="336.6" cy="1049.1" r="4.20"/><circle cx="340.4" cy="1048.3" r="4.20"/><circle cx="240.8" cy="1053.3" r="4.20"/><circle cx="365.5" cy="1051.0" r="4.20"/><circle cx="366.3" cy="1054.5" r="4.20"/><circle cx="370.1" cy="1054.1" r="4.20"/><circle cx="399.7" cy="1055.9" r="4.20"/><circle cx="301.2" cy="1056.8" r="4.20"/><circle cx="315.4" cy="1059.7" r="4.20"/><circle cx="312.3" cy="1062.4" r="4.20"/><circle cx="327.8" cy="1058.8" r="4.20"/><circle cx="294.2" cy="1062.4" r="4.20"/><circle cx="346.1" cy="1059.9" r="4.20"/><circle cx="332.8" cy="1063.7" r="4.20"/><circle cx="334.4" cy="1067.0" r="4.20"/><circle cx="348.0" cy="1064.0" r="4.20"/><circle cx="350.3" cy="1067.8" r="4.20"/><circle cx="355.6" cy="1068.5" r="4.20"/><circle cx="363.5" cy="1070.3" r="4.20"/><circle cx="300.9" cy="1068.5" r="4.20"/><circle cx="311.3" cy="1071.6" r="4.20"/><circle cx="321.0" cy="1068.8" r="4.20"/><circle cx="323.7" cy="1070.0" r="4.20"/><circle cx="329.8" cy="1067.0" r="4.20"/><circle cx="332.1" cy="1070.0" r="4.20"/><circle cx="290.9" cy="1071.3" r="4.20"/><circle cx="294.5" cy="1075.5" r="4.20"/><circle cx="302.7" cy="1074.6" r="4.20"/><circle cx="310.0" cy="1074.9" r="4.20"/><circle cx="319.5" cy="1073.8" r="4.20"/><circle cx="341.2" cy="1072.3" r="4.20"/><circle cx="338.6" cy="1075.4" r="4.20"/><circle cx="243.9" cy="1071.7" r="4.20"/><circle cx="217.0" cy="1077.8" r="4.20"/><circle cx="307.0" cy="1079.2" r="4.20"/><circle cx="316.1" cy="1081.0" r="4.20"/><circle cx="348.8" cy="1080.7" r="4.20"/><circle cx="308.5" cy="1083.7" r="4.20"/><circle cx="313.4" cy="1083.7" r="4.20"/><circle cx="326.8" cy="1084.5" r="4.20"/><circle cx="321.0" cy="1086.8" r="4.20"/><circle cx="348.0" cy="1085.2" r="4.20"/><circle cx="341.2" cy="1087.5" r="4.20"/><circle cx="345.0" cy="1087.5" r="4.20"/><circle cx="274.8" cy="1083.4" r="4.20"/><circle cx="286.0" cy="1082.2" r="4.20"/><circle cx="261.9" cy="1085.1" r="4.20"/><circle cx="372.6" cy="1085.4" r="4.20"/><circle cx="384.8" cy="1083.7" r="4.20"/><circle cx="400.9" cy="1081.4" r="4.20"/><circle cx="253.8" cy="1092.1" r="4.20"/><circle cx="270.8" cy="1094.7" r="4.20"/><circle cx="284.5" cy="1093.6" r="4.20"/><circle cx="301.2" cy="1093.6" r="4.20"/><circle cx="314.6" cy="1094.7" r="4.20"/><circle cx="323.7" cy="1094.4" r="4.20"/><circle cx="328.3" cy="1094.4" r="4.20"/><circle cx="340.4" cy="1092.8" r="4.20"/><circle cx="337.1" cy="1096.6" r="4.20"/><circle cx="357.9" cy="1092.8" r="4.20"/><circle cx="356.4" cy="1100.7" r="4.20"/><circle cx="335.9" cy="1100.4" r="4.20"/><circle cx="302.4" cy="1098.2" r="4.20"/><circle cx="307.0" cy="1099.7" r="4.20"/><circle cx="310.0" cy="1100.4" r="4.20"/><circle cx="317.6" cy="1103.8" r="4.20"/><circle cx="235.3" cy="1102.4" r="4.20"/><circle cx="269.8" cy="1104.2" r="4.20"/><circle cx="277.8" cy="1102.0" r="4.20"/><circle cx="284.2" cy="1105.3" r="4.20"/><circle cx="275.1" cy="1109.2" r="4.20"/><circle cx="289.5" cy="1111.1" r="4.20"/><circle cx="295.6" cy="1111.1" r="4.20"/><circle cx="298.6" cy="1105.8" r="4.20"/><circle cx="326.8" cy="1108.8" r="4.20"/><circle cx="322.2" cy="1113.8" r="4.20"/><circle cx="318.9" cy="1117.9" r="4.20"/><circle cx="264.0" cy="1117.1" r="4.20"/><circle cx="280.4" cy="1116.1" r="4.20"/><circle cx="303.5" cy="1124.0" r="4.20"/><circle cx="328.0" cy="1132.3" r="4.20"/><circle cx="345.8" cy="1132.3" r="4.20"/><circle cx="364.0" cy="1133.9" r="4.20"/></g>
<line x1="438.3" y1="1105.0" x2="438.3" y2="1080.0" stroke="#111" stroke-width="2.20"/>
<path d="M438.3 1075.3 l4.5 10.2 l-4.5 -3.0 l-4.5 3.0 Z" fill="#111"/>
<line x1="438.3" y1="1119.5" x2="438.3" y2="1145.0" stroke="#111" stroke-width="2.20"/>
<path d="M438.3 1149.6 l4.5 -10.2 l-4.5 3.0 l-4.5 -3.0 Z" fill="#111"/>
<text x="507.0" y="1062.5" text-anchor="middle" fill="#000" stroke="#000" font-size="20.8px">Correct</text>
<text x="509.0" y="1088.0" text-anchor="middle" fill="#000" stroke="#000" font-size="20.8px">turn</text>
<text x="507.0" y="1128.9" text-anchor="middle" fill="#000" stroke="#000" font-size="20.8px">Incorrect</text>
<text x="509.0" y="1154.2" text-anchor="middle" fill="#000" stroke="#000" font-size="20.8px">turn</text>
<line x1="816.0" y1="930.2" x2="816.0" y2="1160.5" stroke="#000" stroke-width="1.50"/>
<line x1="805.0" y1="931.0" x2="816.0" y2="931.0" stroke="#000" stroke-width="1.50"/>
<text x="789.6" y="939.0" text-anchor="end" fill="#000" stroke="#000" font-size="20.8px">200</text>
<line x1="805.0" y1="976.8" x2="816.0" y2="976.8" stroke="#000" stroke-width="1.50"/>
<text x="789.6" y="984.8" text-anchor="end" fill="#000" stroke="#000" font-size="20.8px">150</text>
<line x1="805.0" y1="1022.5" x2="816.0" y2="1022.5" stroke="#000" stroke-width="1.50"/>
<text x="789.6" y="1030.5" text-anchor="end" fill="#000" stroke="#000" font-size="20.8px">100</text>
<line x1="805.0" y1="1068.3" x2="816.0" y2="1068.3" stroke="#000" stroke-width="1.50"/>
<text x="789.6" y="1076.3" text-anchor="end" fill="#000" stroke="#000" font-size="20.8px">50</text>
<line x1="805.0" y1="1114.1" x2="816.0" y2="1114.1" stroke="#000" stroke-width="1.50"/>
<text x="789.6" y="1122.1" text-anchor="end" fill="#000" stroke="#000" font-size="20.8px">0</text>
<line x1="805.0" y1="1159.7" x2="816.0" y2="1159.7" stroke="#000" stroke-width="1.50"/>
<text x="789.6" y="1167.7" text-anchor="end" fill="#000" stroke="#000" font-size="20.8px">−50</text>
<text x="703.2" y="1028.2" text-anchor="middle" fill="#000" stroke="#000" font-size="20.8px">Mean</text>
<text x="703.2" y="1053.1" text-anchor="middle" fill="#000" stroke="#000" font-size="20.8px">ipsilateral</text>
<text x="703.2" y="1078.1" text-anchor="middle" fill="#000" stroke="#000" font-size="20.8px">turning</text>
<text x="703.2" y="1103.0" text-anchor="middle" fill="#000" stroke="#000" font-size="20.8px">(deg/s)</text>
<line x1="823.0" y1="1168.1" x2="1060.0" y2="1168.1" stroke="#000" stroke-width="1.50"/>
<line x1="868.2" y1="1168.1" x2="868.2" y2="1178.5" stroke="#000" stroke-width="1.50"/>
<text x="868.2" y="1208.2" text-anchor="middle" fill="#000" stroke="#000" font-size="20.8px">0</text>
<line x1="998.4" y1="1168.1" x2="998.4" y2="1178.5" stroke="#000" stroke-width="1.50"/>
<text x="998.4" y="1208.2" text-anchor="middle" fill="#000" stroke="#000" font-size="20.8px">5</text>
<text x="942.5" y="1234.9" text-anchor="middle" fill="#000" stroke="#000" font-size="20.8px">Mean forward velocity</text>
<text x="942.5" y="1260.1" text-anchor="middle" fill="#000" stroke="#000" font-size="20.8px">before stim.</text>
<text x="942.5" y="1285.3" text-anchor="middle" fill="#000" stroke="#000" font-size="20.8px">(mm/s)</text>
<line x1="824.0" y1="1114.1" x2="1057.0" y2="1114.1" stroke="#868686" stroke-width="3.9" stroke-dasharray="4 7.15"/>
<g fill="#000"><circle cx="913.3" cy="974.6" r="4.20"/><circle cx="914.8" cy="1005.9" r="4.20"/><circle cx="914.8" cy="1017.3" r="4.20"/><circle cx="1018.2" cy="1019.1" r="4.20"/><circle cx="955.4" cy="1025.5" r="4.20"/><circle cx="881.6" cy="1029.9" r="4.20"/><circle cx="1002.2" cy="1036.2" r="4.20"/><circle cx="983.2" cy="1038.0" r="4.20"/><circle cx="911.0" cy="1042.2" r="4.20"/><circle cx="950.6" cy="1042.8" r="4.20"/><circle cx="889.0" cy="1043.5" r="4.20"/><circle cx="961.2" cy="1048.2" r="4.20"/><circle cx="1001.5" cy="1049.1" r="4.20"/><circle cx="858.6" cy="1048.2" r="4.20"/><circle cx="881.0" cy="1051.4" r="4.20"/><circle cx="868.5" cy="1053.6" r="4.20"/><circle cx="969.9" cy="1054.5" r="4.20"/><circle cx="932.3" cy="1053.3" r="4.20"/><circle cx="860.9" cy="1055.9" r="4.20"/><circle cx="867.0" cy="1058.2" r="4.20"/><circle cx="864.7" cy="1060.9" r="4.20"/><circle cx="892.1" cy="1056.8" r="4.20"/><circle cx="914.5" cy="1060.2" r="4.20"/><circle cx="908.0" cy="1062.4" r="4.20"/><circle cx="928.5" cy="1059.7" r="4.20"/><circle cx="930.3" cy="1062.7" r="4.20"/><circle cx="882.2" cy="1064.3" r="4.20"/><circle cx="922.4" cy="1066.2" r="4.20"/><circle cx="950.6" cy="1064.4" r="4.20"/><circle cx="959.2" cy="1065.0" r="4.20"/><circle cx="860.1" cy="1067.5" r="4.20"/><circle cx="869.3" cy="1068.5" r="4.20"/><circle cx="861.7" cy="1070.0" r="4.20"/><circle cx="867.0" cy="1071.6" r="4.20"/><circle cx="892.1" cy="1068.2" r="4.20"/><circle cx="896.3" cy="1071.3" r="4.20"/><circle cx="916.4" cy="1068.5" r="4.20"/><circle cx="912.1" cy="1071.6" r="4.20"/><circle cx="915.6" cy="1073.4" r="4.20"/><circle cx="936.6" cy="1070.3" r="4.20"/><circle cx="990.1" cy="1067.8" r="4.20"/><circle cx="986.3" cy="1069.3" r="4.20"/><circle cx="998.4" cy="1071.7" r="4.20"/><circle cx="876.1" cy="1073.8" r="4.20"/><circle cx="880.7" cy="1074.9" r="4.20"/><circle cx="887.0" cy="1077.6" r="4.20"/><circle cx="868.5" cy="1076.9" r="4.20"/><circle cx="944.8" cy="1075.8" r="4.20"/><circle cx="958.9" cy="1075.5" r="4.20"/><circle cx="1047.8" cy="1075.5" r="4.20"/><circle cx="863.2" cy="1081.9" r="4.20"/><circle cx="868.5" cy="1083.4" r="4.20"/><circle cx="872.3" cy="1084.9" r="4.20"/><circle cx="880.7" cy="1085.2" r="4.20"/><circle cx="886.4" cy="1085.2" r="4.20"/><circle cx="861.7" cy="1087.2" r="4.20"/><circle cx="905.0" cy="1083.4" r="4.20"/><circle cx="901.2" cy="1084.9" r="4.20"/><circle cx="903.0" cy="1087.5" r="4.20"/><circle cx="929.6" cy="1082.7" r="4.20"/><circle cx="947.7" cy="1084.0" r="4.20"/><circle cx="967.0" cy="1081.0" r="4.20"/><circle cx="1029.6" cy="1081.9" r="4.20"/><circle cx="834.8" cy="1095.3" r="4.20"/><circle cx="867.7" cy="1093.6" r="4.20"/><circle cx="873.1" cy="1094.4" r="4.20"/><circle cx="880.4" cy="1094.7" r="4.20"/><circle cx="900.4" cy="1093.1" r="4.20"/><circle cx="915.2" cy="1092.1" r="4.20"/><circle cx="918.2" cy="1095.9" r="4.20"/><circle cx="923.2" cy="1093.6" r="4.20"/><circle cx="927.0" cy="1099.7" r="4.20"/><circle cx="930.0" cy="1102.7" r="4.20"/><circle cx="888.3" cy="1100.6" r="4.20"/><circle cx="866.2" cy="1100.9" r="4.20"/><circle cx="870.8" cy="1102.7" r="4.20"/><circle cx="874.6" cy="1100.4" r="4.20"/><circle cx="908.0" cy="1103.8" r="4.20"/><circle cx="914.1" cy="1106.2" r="4.20"/><circle cx="911.8" cy="1109.6" r="4.20"/><circle cx="969.1" cy="1106.2" r="4.20"/><circle cx="976.8" cy="1104.4" r="4.20"/><circle cx="949.8" cy="1111.1" r="4.20"/><circle cx="988.5" cy="1111.1" r="4.20"/><circle cx="935.2" cy="1114.9" r="4.20"/><circle cx="974.6" cy="1117.9" r="4.20"/><circle cx="982.2" cy="1116.7" r="4.20"/><circle cx="892.1" cy="1118.7" r="4.20"/><circle cx="968.0" cy="1124.7" r="4.20"/><circle cx="899.8" cy="1133.1" r="4.20"/><circle cx="915.9" cy="1134.3" r="4.20"/><circle cx="994.0" cy="1133.0" r="4.20"/></g>
<line x1="1066.8" y1="1105.0" x2="1066.8" y2="1080.0" stroke="#111" stroke-width="2.20"/>
<path d="M1066.8 1075.3 l4.5 10.2 l-4.5 -3.0 l-4.5 3.0 Z" fill="#111"/>
<line x1="1066.8" y1="1119.5" x2="1066.8" y2="1145.0" stroke="#111" stroke-width="2.20"/>
<path d="M1066.8 1149.6 l4.5 -10.2 l-4.5 3.0 l-4.5 -3.0 Z" fill="#111"/>
<text x="1122.6" y="1062.9" text-anchor="middle" fill="#000" stroke="#000" font-size="20.8px">Correct</text>
<text x="1124.6" y="1088.4" text-anchor="middle" fill="#000" stroke="#000" font-size="20.8px">turn</text>
<text x="1122.6" y="1128.9" text-anchor="middle" fill="#000" stroke="#000" font-size="20.8px">Incorrect</text>
<text x="1124.6" y="1154.2" text-anchor="middle" fill="#000" stroke="#000" font-size="20.8px">turn</text>
<line x1="1425.3" y1="933.5" x2="1425.3" y2="1158.0" stroke="#000" stroke-width="1.50"/>
<line x1="1414.3" y1="934.2" x2="1425.3" y2="934.2" stroke="#000" stroke-width="1.50"/>
<text x="1400.2" y="942.2" text-anchor="end" fill="#000" stroke="#000" font-size="20.8px">200</text>
<line x1="1414.3" y1="978.8" x2="1425.3" y2="978.8" stroke="#000" stroke-width="1.50"/>
<text x="1400.2" y="986.8" text-anchor="end" fill="#000" stroke="#000" font-size="20.8px">150</text>
<line x1="1414.3" y1="1023.4" x2="1425.3" y2="1023.4" stroke="#000" stroke-width="1.50"/>
<text x="1400.2" y="1031.4" text-anchor="end" fill="#000" stroke="#000" font-size="20.8px">100</text>
<line x1="1414.3" y1="1068.0" x2="1425.3" y2="1068.0" stroke="#000" stroke-width="1.50"/>
<text x="1400.2" y="1076.0" text-anchor="end" fill="#000" stroke="#000" font-size="20.8px">50</text>
<line x1="1414.3" y1="1112.6" x2="1425.3" y2="1112.6" stroke="#000" stroke-width="1.50"/>
<text x="1400.2" y="1120.6" text-anchor="end" fill="#000" stroke="#000" font-size="20.8px">0</text>
<line x1="1414.3" y1="1157.3" x2="1425.3" y2="1157.3" stroke="#000" stroke-width="1.50"/>
<text x="1400.2" y="1165.3" text-anchor="end" fill="#000" stroke="#000" font-size="20.8px">−50</text>
<text x="1318.9" y="1028.2" text-anchor="middle" fill="#000" stroke="#000" font-size="20.8px">Mean</text>
<text x="1318.9" y="1053.1" text-anchor="middle" fill="#000" stroke="#000" font-size="20.8px">ipsilateral</text>
<text x="1318.9" y="1078.1" text-anchor="middle" fill="#000" stroke="#000" font-size="20.8px">turning</text>
<text x="1318.9" y="1103.0" text-anchor="middle" fill="#000" stroke="#000" font-size="20.8px">(deg/s)</text>
<line x1="1432.7" y1="1165.7" x2="1662.5" y2="1165.7" stroke="#000" stroke-width="1.50"/>
<line x1="1433.4" y1="1165.7" x2="1433.4" y2="1176.1" stroke="#000" stroke-width="1.50"/>
<text x="1433.4" y="1205.8" text-anchor="middle" fill="#000" stroke="#000" font-size="20.8px">−100</text>
<line x1="1547.6" y1="1165.7" x2="1547.6" y2="1176.1" stroke="#000" stroke-width="1.50"/>
<text x="1547.6" y="1205.8" text-anchor="middle" fill="#000" stroke="#000" font-size="20.8px">0</text>
<line x1="1661.8" y1="1165.7" x2="1661.8" y2="1176.1" stroke="#000" stroke-width="1.50"/>
<text x="1661.8" y="1205.8" text-anchor="middle" fill="#000" stroke="#000" font-size="20.8px">100</text>
<text x="1551.7" y="1234.9" text-anchor="middle" fill="#000" stroke="#000" font-size="20.8px">Mean ipsilateral</text>
<text x="1551.7" y="1260.1" text-anchor="middle" fill="#000" stroke="#000" font-size="20.8px">turning velocity</text>
<text x="1551.7" y="1285.3" text-anchor="middle" fill="#000" stroke="#000" font-size="20.8px">before stim.</text>
<text x="1551.7" y="1310.5" text-anchor="middle" fill="#000" stroke="#000" font-size="20.8px">(deg/s)</text>
<line x1="1433.2" y1="1113.0" x2="1662.2" y2="1113.0" stroke="#868686" stroke-width="3.9" stroke-dasharray="4 6.87"/>
<g fill="#000"><circle cx="1525.8" cy="977.0" r="4.20"/><circle cx="1502.2" cy="1007.4" r="4.20"/><circle cx="1558.6" cy="1018.7" r="4.20"/><circle cx="1491.4" cy="1020.2" r="4.20"/><circle cx="1647.2" cy="1026.7" r="4.20"/><circle cx="1587.1" cy="1030.8" r="4.20"/><circle cx="1522.9" cy="1036.9" r="4.20"/><circle cx="1590.2" cy="1038.7" r="4.20"/><circle cx="1630.9" cy="1043.6" r="4.20"/><circle cx="1538.8" cy="1042.4" r="4.20"/><circle cx="1575.8" cy="1044.2" r="4.20"/><circle cx="1533.2" cy="1049.5" r="4.20"/><circle cx="1543.4" cy="1048.8" r="4.20"/><circle cx="1559.5" cy="1048.8" r="4.20"/><circle cx="1551.0" cy="1051.8" r="4.20"/><circle cx="1547.3" cy="1054.8" r="4.20"/><circle cx="1584.6" cy="1053.6" r="4.20"/><circle cx="1580.3" cy="1054.8" r="4.20"/><circle cx="1576.5" cy="1057.1" r="4.20"/><circle cx="1489.6" cy="1056.1" r="4.20"/><circle cx="1475.9" cy="1060.3" r="4.20"/><circle cx="1547.3" cy="1059.1" r="4.20"/><circle cx="1523.8" cy="1062.4" r="4.20"/><circle cx="1537.9" cy="1061.7" r="4.20"/><circle cx="1583.3" cy="1062.7" r="4.20"/><circle cx="1603.9" cy="1060.2" r="4.20"/><circle cx="1605.7" cy="1064.7" r="4.20"/><circle cx="1565.9" cy="1064.7" r="4.20"/><circle cx="1562.8" cy="1067.3" r="4.20"/><circle cx="1576.5" cy="1064.7" r="4.20"/><circle cx="1542.8" cy="1067.0" r="4.20"/><circle cx="1552.2" cy="1068.2" r="4.20"/><circle cx="1547.6" cy="1070.0" r="4.20"/><circle cx="1541.6" cy="1071.6" r="4.20"/><circle cx="1471.7" cy="1067.9" r="4.20"/><circle cx="1528.3" cy="1071.0" r="4.20"/><circle cx="1572.0" cy="1070.0" r="4.20"/><circle cx="1579.6" cy="1070.8" r="4.20"/><circle cx="1567.4" cy="1071.6" r="4.20"/><circle cx="1496.0" cy="1073.5" r="4.20"/><circle cx="1550.7" cy="1073.8" r="4.20"/><circle cx="1571.2" cy="1074.6" r="4.20"/><circle cx="1565.9" cy="1076.1" r="4.20"/><circle cx="1549.9" cy="1077.6" r="4.20"/><circle cx="1641.2" cy="1077.6" r="4.20"/><circle cx="1561.3" cy="1080.4" r="4.20"/><circle cx="1566.6" cy="1081.4" r="4.20"/><circle cx="1538.2" cy="1081.0" r="4.20"/><circle cx="1520.3" cy="1083.0" r="4.20"/><circle cx="1608.1" cy="1083.0" r="4.20"/><circle cx="1632.0" cy="1082.2" r="4.20"/><circle cx="1538.5" cy="1086.0" r="4.20"/><circle cx="1541.6" cy="1083.7" r="4.20"/><circle cx="1546.1" cy="1084.5" r="4.20"/><circle cx="1549.2" cy="1082.2" r="4.20"/><circle cx="1520.0" cy="1086.8" r="4.20"/><circle cx="1566.6" cy="1085.2" r="4.20"/><circle cx="1578.8" cy="1085.2" r="4.20"/><circle cx="1547.6" cy="1089.0" r="4.20"/><circle cx="1641.2" cy="1091.6" r="4.20"/><circle cx="1440.5" cy="1094.4" r="4.20"/><circle cx="1513.0" cy="1093.6" r="4.20"/><circle cx="1572.0" cy="1092.5" r="4.20"/><circle cx="1540.0" cy="1094.1" r="4.20"/><circle cx="1552.2" cy="1093.6" r="4.20"/><circle cx="1558.3" cy="1095.1" r="4.20"/><circle cx="1548.9" cy="1097.4" r="4.20"/><circle cx="1546.1" cy="1099.7" r="4.20"/><circle cx="1552.2" cy="1100.4" r="4.20"/><circle cx="1498.0" cy="1100.0" r="4.20"/><circle cx="1532.4" cy="1105.0" r="4.20"/><circle cx="1544.6" cy="1102.0" r="4.20"/><circle cx="1555.2" cy="1103.5" r="4.20"/><circle cx="1547.3" cy="1105.3" r="4.20"/><circle cx="1574.2" cy="1103.2" r="4.20"/><circle cx="1593.7" cy="1101.6" r="4.20"/><circle cx="1467.6" cy="1108.0" r="4.20"/><circle cx="1618.8" cy="1108.3" r="4.20"/><circle cx="1556.0" cy="1109.6" r="4.20"/><circle cx="1574.2" cy="1109.6" r="4.20"/><circle cx="1557.5" cy="1116.4" r="4.20"/><circle cx="1565.9" cy="1114.9" r="4.20"/><circle cx="1568.2" cy="1113.3" r="4.20"/><circle cx="1491.1" cy="1117.5" r="4.20"/><circle cx="1611.8" cy="1122.9" r="4.20"/><circle cx="1531.2" cy="1131.3" r="4.20"/><circle cx="1577.1" cy="1131.3" r="4.20"/><circle cx="1645.2" cy="1132.8" r="4.20"/></g>
<line x1="1670.0" y1="1105.0" x2="1670.0" y2="1080.0" stroke="#111" stroke-width="2.20"/>
<path d="M1670.0 1075.3 l4.5 10.2 l-4.5 -3.0 l-4.5 3.0 Z" fill="#111"/>
<line x1="1670.0" y1="1119.5" x2="1670.0" y2="1145.0" stroke="#111" stroke-width="2.20"/>
<path d="M1670.0 1149.6 l4.5 -10.2 l-4.5 3.0 l-4.5 -3.0 Z" fill="#111"/>
<text x="1738.3" y="1074.5" text-anchor="middle" fill="#000" stroke="#000" font-size="20.8px">Correct</text>
<text x="1740.3" y="1100.0" text-anchor="middle" fill="#000" stroke="#000" font-size="20.8px">turn</text>
<text x="1738.3" y="1128.9" text-anchor="middle" fill="#000" stroke="#000" font-size="20.8px">Incorrect</text>
<text x="1740.3" y="1154.2" text-anchor="middle" fill="#000" stroke="#000" font-size="20.8px">turn</text>
</svg>
</body></html>
